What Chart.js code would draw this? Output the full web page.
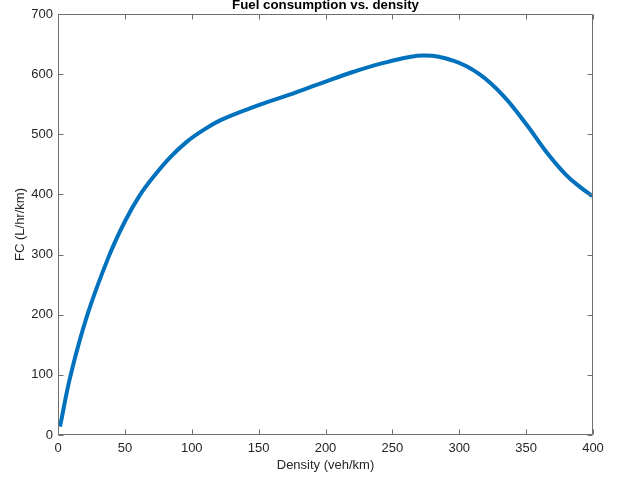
<!DOCTYPE html>
<html>
<head>
<meta charset="utf-8">
<script src="https://cdn.jsdelivr.net/npm/chart.js@4/dist/chart.umd.min.js"></script>
<style>
  html, body { margin: 0; padding: 0; background: #fff; }
  #wrap { width: 628px; height: 479px; position: relative; }
</style>
</head>
<body>
<div id="wrap"><canvas id="c" width="628" height="479"></canvas></div>
<script>
const chartTitle = "Fuel consumption vs. density";
const xTitle = "Density (veh/km)";
const yTitle = "FC (L/hr/km)";
const density = [1.5, 9.5, 22, 38, 50, 61, 72, 84, 96, 108, 122, 147, 172, 198, 221, 246, 273, 296, 315, 333, 350, 365, 380, 390, 399.5];
const fc = [14, 100, 200, 297, 355, 398, 431, 462, 487, 506, 524, 546, 565, 586, 604, 620, 631, 622, 600, 564, 517, 471, 432, 413, 397];
const xTicks = [0, 50, 100, 150, 200, 250, 300, 350, 400];
const yTicks = [0, 100, 200, 300, 400, 500, 600, 700];

const textColor = '#262626';
const fontFamily = '"Liberation Sans", Arial, Helvetica, sans-serif';

const points = density.map((d, i) => ({ x: d, y: fc[i] }));

const boxPlugin = {
  id: 'boxPlugin',
  afterDraw(chart) {
    const { ctx, chartArea: a, scales } = chart;
    ctx.save();
    ctx.strokeStyle = '#6e6e6e';
    ctx.lineWidth = 1;
    const L = Math.round(a.left) + 0.5, R = Math.round(a.right) - 0.5;
    const T = Math.round(a.top) + 0.5, B = Math.round(a.bottom) - 0.5;
    ctx.beginPath();
    ctx.rect(L, T, R - L, B - T);
    ctx.stroke();
    const tl = 5;
    ctx.beginPath();
    xTicks.forEach(v => {
      const px = Math.round(scales.x.getPixelForValue(v)) + 0.5;
      ctx.moveTo(px, B); ctx.lineTo(px, B - tl);
      ctx.moveTo(px, T); ctx.lineTo(px, T + tl);
    });
    yTicks.forEach(v => {
      const py = Math.round(scales.y.getPixelForValue(v)) + 0.5;
      ctx.moveTo(L, py); ctx.lineTo(L + tl, py);
      ctx.moveTo(R, py); ctx.lineTo(R - tl, py);
    });
    ctx.stroke();
    ctx.fillStyle = '#000';
    ctx.font = 'bold 13.3px ' + fontFamily;
    ctx.textAlign = 'center';
    ctx.textBaseline = 'alphabetic';
    ctx.fillText(chartTitle, (a.left + a.right) / 2, 8.5);
    ctx.restore();
  }
};

new Chart(document.getElementById('c'), {
  type: 'line',
  data: {
    datasets: [{
      data: points,
      borderColor: '#0072BD',
      borderWidth: 4,
      pointRadius: 0,
      fill: false,
      tension: 0.4,
      borderCapStyle: 'butt',
      borderJoinStyle: 'round'
    }]
  },
  options: {
    responsive: false,
    animation: false,
    devicePixelRatio: 1,
    layout: { padding: { top: 14, right: 35, left: 0, bottom: 0 } },
    plugins: { legend: { display: false }, tooltip: { enabled: false }, title: { display: false } },
    scales: {
      x: {
        type: 'linear',
        min: 0, max: 400,
        afterBuildTicks(scale) { scale.ticks = xTicks.map(v => ({ value: v })); },
        afterFit(scale) { scale.height = 44; },
        grid: { display: false, drawTicks: false },
        border: { display: false },
        ticks: { color: textColor, font: { size: 13, family: fontFamily }, padding: 6, maxRotation: 0, autoSkip: false },
        title: { display: true, text: xTitle, color: textColor, font: { size: 13, family: fontFamily }, padding: { top: 0, bottom: 6 } }
      },
      y: {
        type: 'linear',
        min: 0, max: 700,
        afterBuildTicks(scale) { scale.ticks = yTicks.map(v => ({ value: v })); },
        afterFit(scale) { scale.width = 58; },
        grid: { display: false, drawTicks: false },
        border: { display: false },
        ticks: { color: textColor, font: { size: 13, family: fontFamily }, padding: 5, autoSkip: false },
        title: { display: true, text: yTitle, color: textColor, font: { size: 13, family: fontFamily }, padding: { top: 13, bottom: 0 } }
      }
    }
  },
  plugins: [boxPlugin]
});
</script>
</body>
</html>
